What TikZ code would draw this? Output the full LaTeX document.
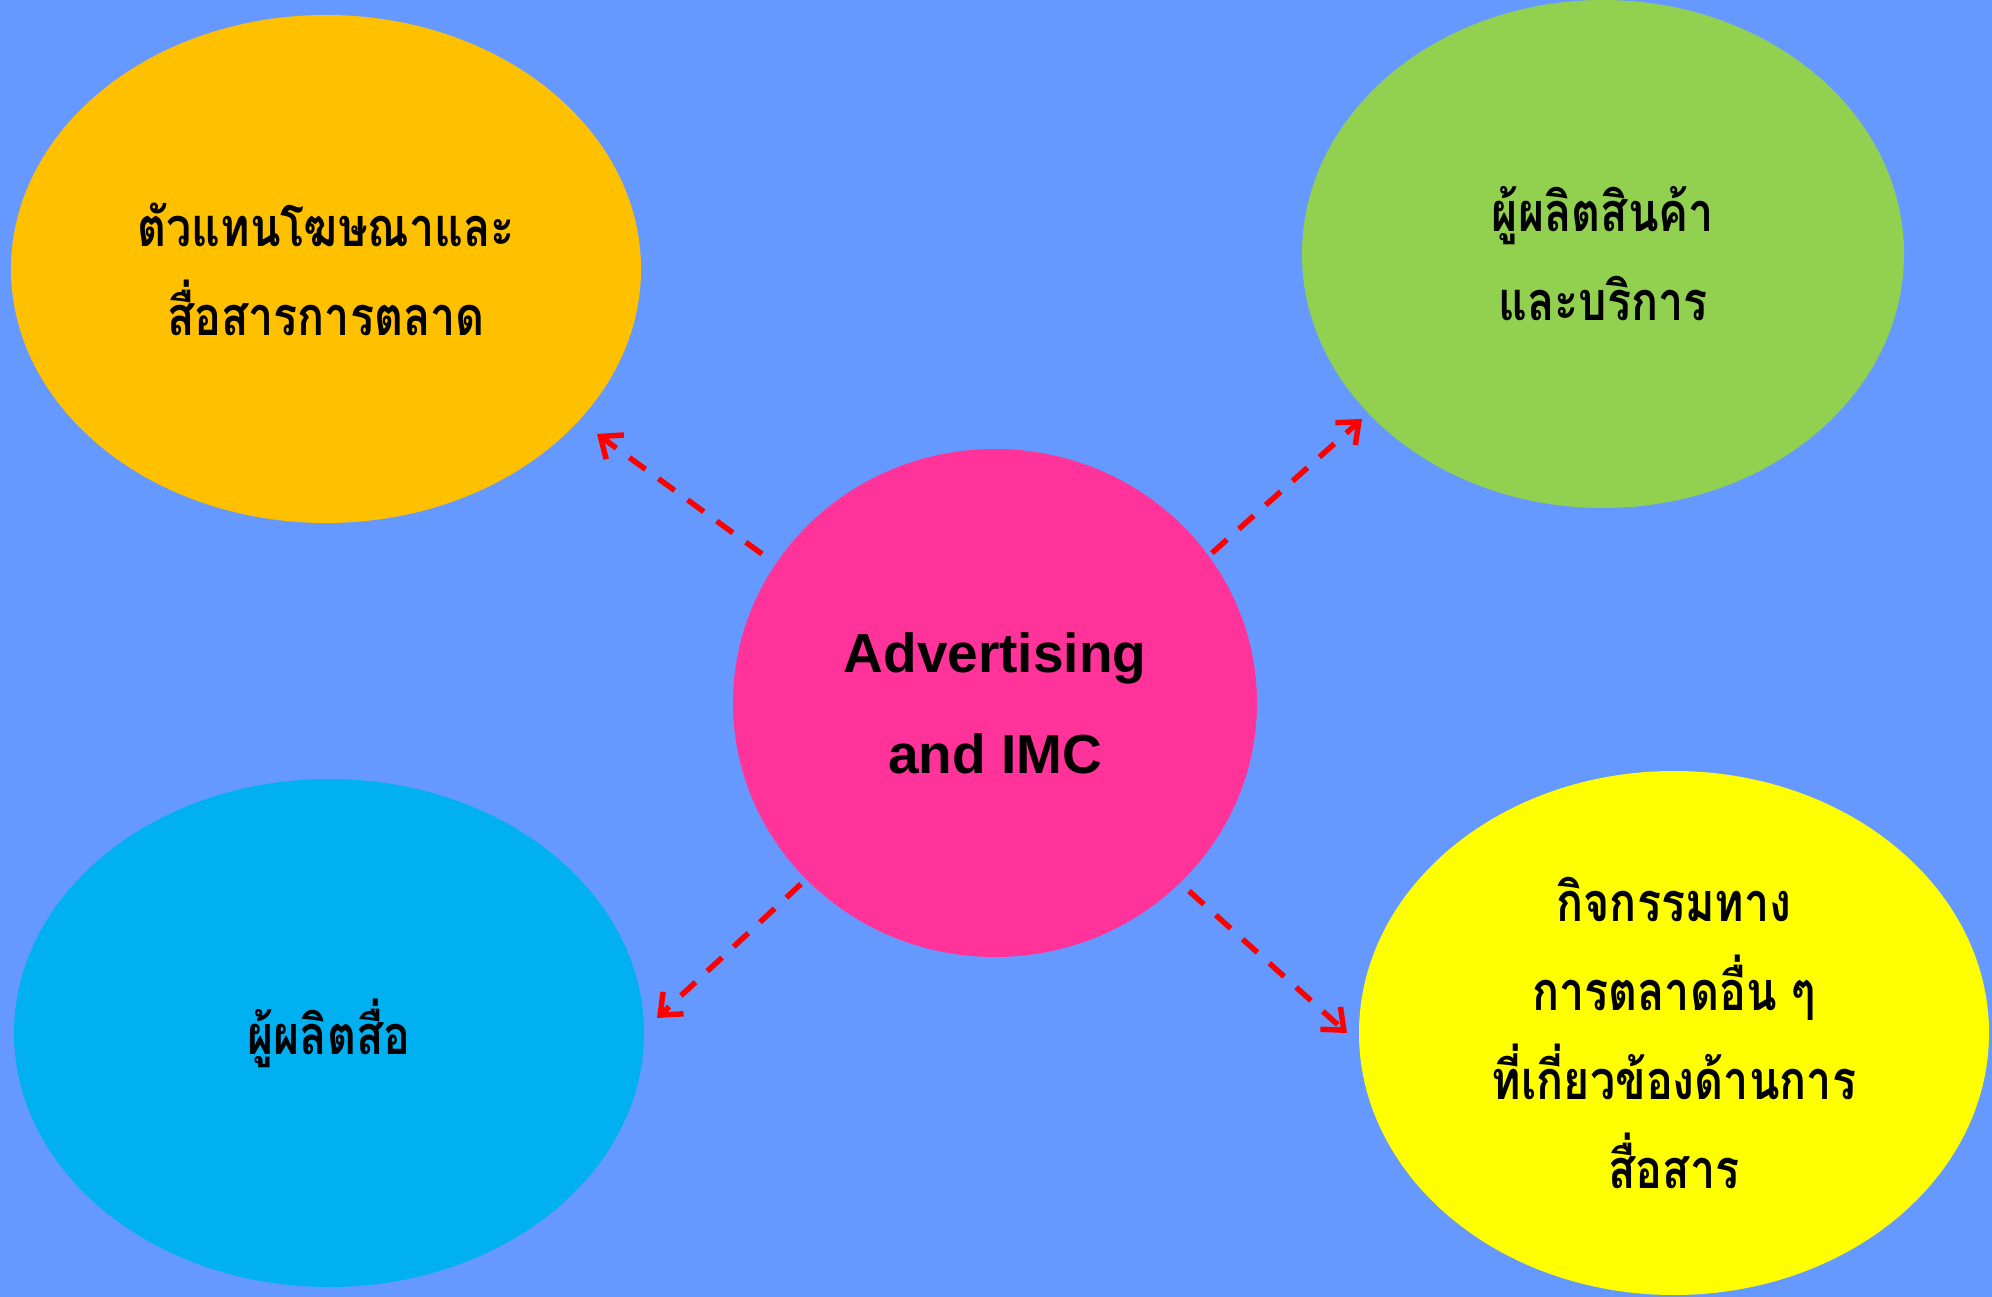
\documentclass[tikz,border=0pt]{standalone}
\usepackage{fontspec}
\setmainfont{Liberation Sans}
\newfontfamily\thaifont[Script=Thai,FakeStretch=0.83]{Loma}
\usetikzlibrary{shapes.geometric,arrows.meta}
\definecolor{bgc}{RGB}{102,153,255}
\definecolor{orangec}{RGB}{255,192,0}
\definecolor{greenc}{RGB}{146,208,80}
\definecolor{pinkc}{RGB}{255,51,153}
\definecolor{bluec}{RGB}{0,176,240}
\definecolor{yellowc}{RGB}{255,255,0}
\definecolor{redc}{RGB}{255,0,0}
\tikzset{
  blob/.style={ellipse, inner sep=0pt, draw=none, align=center, text=black},
  thaitext/.style={font=\thaifont\bfseries\fontsize{54}{89}\selectfont},
  engtext/.style={font=\bfseries\fontsize{55}{101}\selectfont},
  link/.style={draw=redc, line width=5.5pt, dash pattern=on 20pt off 16pt,
    -{Straight Barb[length=18pt,width=30pt,line width=5.5pt]}}
}
\begin{document}
\begin{tikzpicture}[x=1pt,y=-1pt]
\useasboundingbox (0,0) rectangle (1992,1297);
\fill[bgc] (0,0) rectangle (1992,1297);
\node[blob, fill=orangec, minimum width=630pt, minimum height=508pt, thaitext] (agency) at (326,269) {ตัวแทนโฆษณาและ\\สื่อสารการตลาด};
\node[blob, fill=greenc, minimum width=602pt, minimum height=508pt, thaitext] (producer) at (1603,254) {ผู้ผลิตสินค้า\\และบริการ};
\node[blob, fill=pinkc, minimum width=524pt, minimum height=508pt, engtext] (imc) at (995,703) {Advertising\\and IMC};
\node[blob, fill=bluec, minimum width=630pt, minimum height=508pt, thaitext] (media) at (329,1033) {ผู้ผลิตสื่อ};
\node[blob, fill=yellowc, minimum width=630pt, minimum height=524pt, thaitext] (other) at (1674,1033) {กิจกรรมทาง\\การตลาดอื่น ๆ\\ที่เกี่ยวข้องด้านการ\\สื่อสาร};
\coordinate (a1s) at (762,554);
\coordinate (a1e) at (597,434);
\coordinate (a2s) at (1212,553);
\coordinate (a2e) at (1362,419);
\coordinate (a3s) at (801,884);
\coordinate (a3e) at (657,1018);
\coordinate (a4s) at (1189,891);
\coordinate (a4e) at (1347,1033);
\draw[link] (a1s) -- (a1e);
\draw[link] (a2s) -- (a2e);
\draw[link] (a3s) -- (a3e);
\draw[link] (a4s) -- (a4e);
\end{tikzpicture}
\end{document}
